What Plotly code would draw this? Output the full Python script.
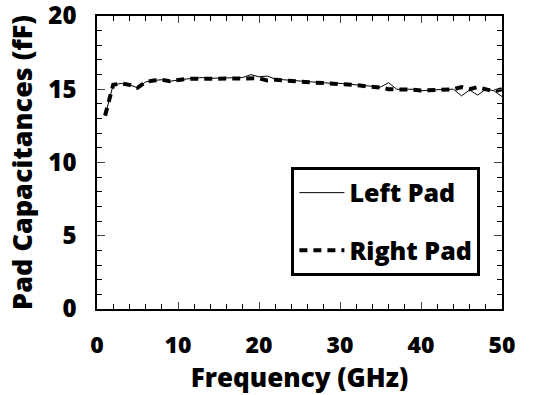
import plotly.graph_objects as go

freq = list(range(1, 51))
left_pad = [13.2, 15.3, 15.4, 15.3, 15.1, 15.5, 15.6, 15.65, 15.55, 15.65,
            15.7, 15.75, 15.8, 15.75, 15.75, 15.75, 15.75, 15.8, 16.0, 15.85,
            15.9, 15.7, 15.65, 15.6, 15.6, 15.5, 15.45, 15.45, 15.4, 15.4,
            15.35, 15.3, 15.25, 15.2, 15.15, 15.45, 15.0, 15.0, 15.0, 14.9,
            14.95, 14.95, 15.0, 15.0, 14.55, 14.95, 14.6, 15.0, 14.9, 14.5]
right_pad = [13.2, 15.3, 15.4, 15.3, 15.1, 15.5, 15.6, 15.65, 15.55, 15.65,
             15.7, 15.72, 15.75, 15.72, 15.72, 15.72, 15.72, 15.72, 15.7, 15.75,
             15.6, 15.65, 15.6, 15.55, 15.55, 15.5, 15.45, 15.42, 15.4, 15.38,
             15.33, 15.28, 15.22, 15.18, 15.12, 15.0, 15.0, 15.0, 14.97, 14.92,
             14.95, 14.97, 15.0, 15.0, 15.15, 15.0, 15.15, 15.0, 14.85, 15.0]
x_ticks = [0, 10, 20, 30, 40, 50]
y_ticks = [0, 5, 10, 15, 20]

FONT = "Open Sans"
W = 800

fig = go.Figure()
fig.add_trace(go.Scatter(x=freq, y=left_pad, mode="lines", name="Left Pad",
                         line=dict(color="black", width=1), legendgroup="a"))
fig.add_trace(go.Scatter(x=freq, y=right_pad, mode="lines", name="Right Pad",
                         line=dict(color="black", width=4, dash="8px,6px"),
                         legendgroup="b"))

fig.update_layout(
    width=543, height=395,
    margin=dict(l=97, r=41, t=16, b=86, autoexpand=False),
    paper_bgcolor="white", plot_bgcolor="white",
    font=dict(family=FONT, color="black", size=20, weight=W),
    legend=dict(x=0.48, y=0.485, xanchor="left", yanchor="top",
                bordercolor="black", borderwidth=3, bgcolor="white",
                font=dict(size=25, family=FONT, weight=W),
                tracegroupgap=22, itemwidth=45),
    showlegend=True,
)
fig.update_xaxes(range=[0, 50], tickvals=x_ticks, ticktext=[str(v) for v in x_ticks],
                 ticks="inside", ticklen=7, tickwidth=1, automargin=False,
                 showline=True, linecolor="black", linewidth=1.5, mirror="ticks",
                 showgrid=False, zeroline=False,
                 minor=dict(dtick=2, ticks="inside", ticklen=5, tickcolor="black"),
                 tickfont=dict(size=23, family=FONT, weight=W),
                 ticklabelstandoff=15, ticklabeloverflow="allow",
                 title=dict(text="Frequency (GHz)", standoff=0,
                            font=dict(size=26, family=FONT, weight=W)))
fig.update_yaxes(range=[0, 20], tickvals=y_ticks, ticktext=[str(v) for v in y_ticks],
                 ticks="inside", ticklen=8, tickwidth=1, automargin=False,
                 showline=True, linecolor="black", linewidth=1.5, mirror="ticks",
                 showgrid=False, zeroline=False,
                 minor=dict(dtick=1, ticks="inside", ticklen=5, tickcolor="black"),
                 tickfont=dict(size=24, family=FONT, weight=W),
                 ticklabelstandoff=14, ticklabeloverflow="allow",
                 title=dict(text="Pad Capacitances (fF)", standoff=8,
                            font=dict(size=27, family=FONT, weight=W)))

fig.write_html("out.html")
